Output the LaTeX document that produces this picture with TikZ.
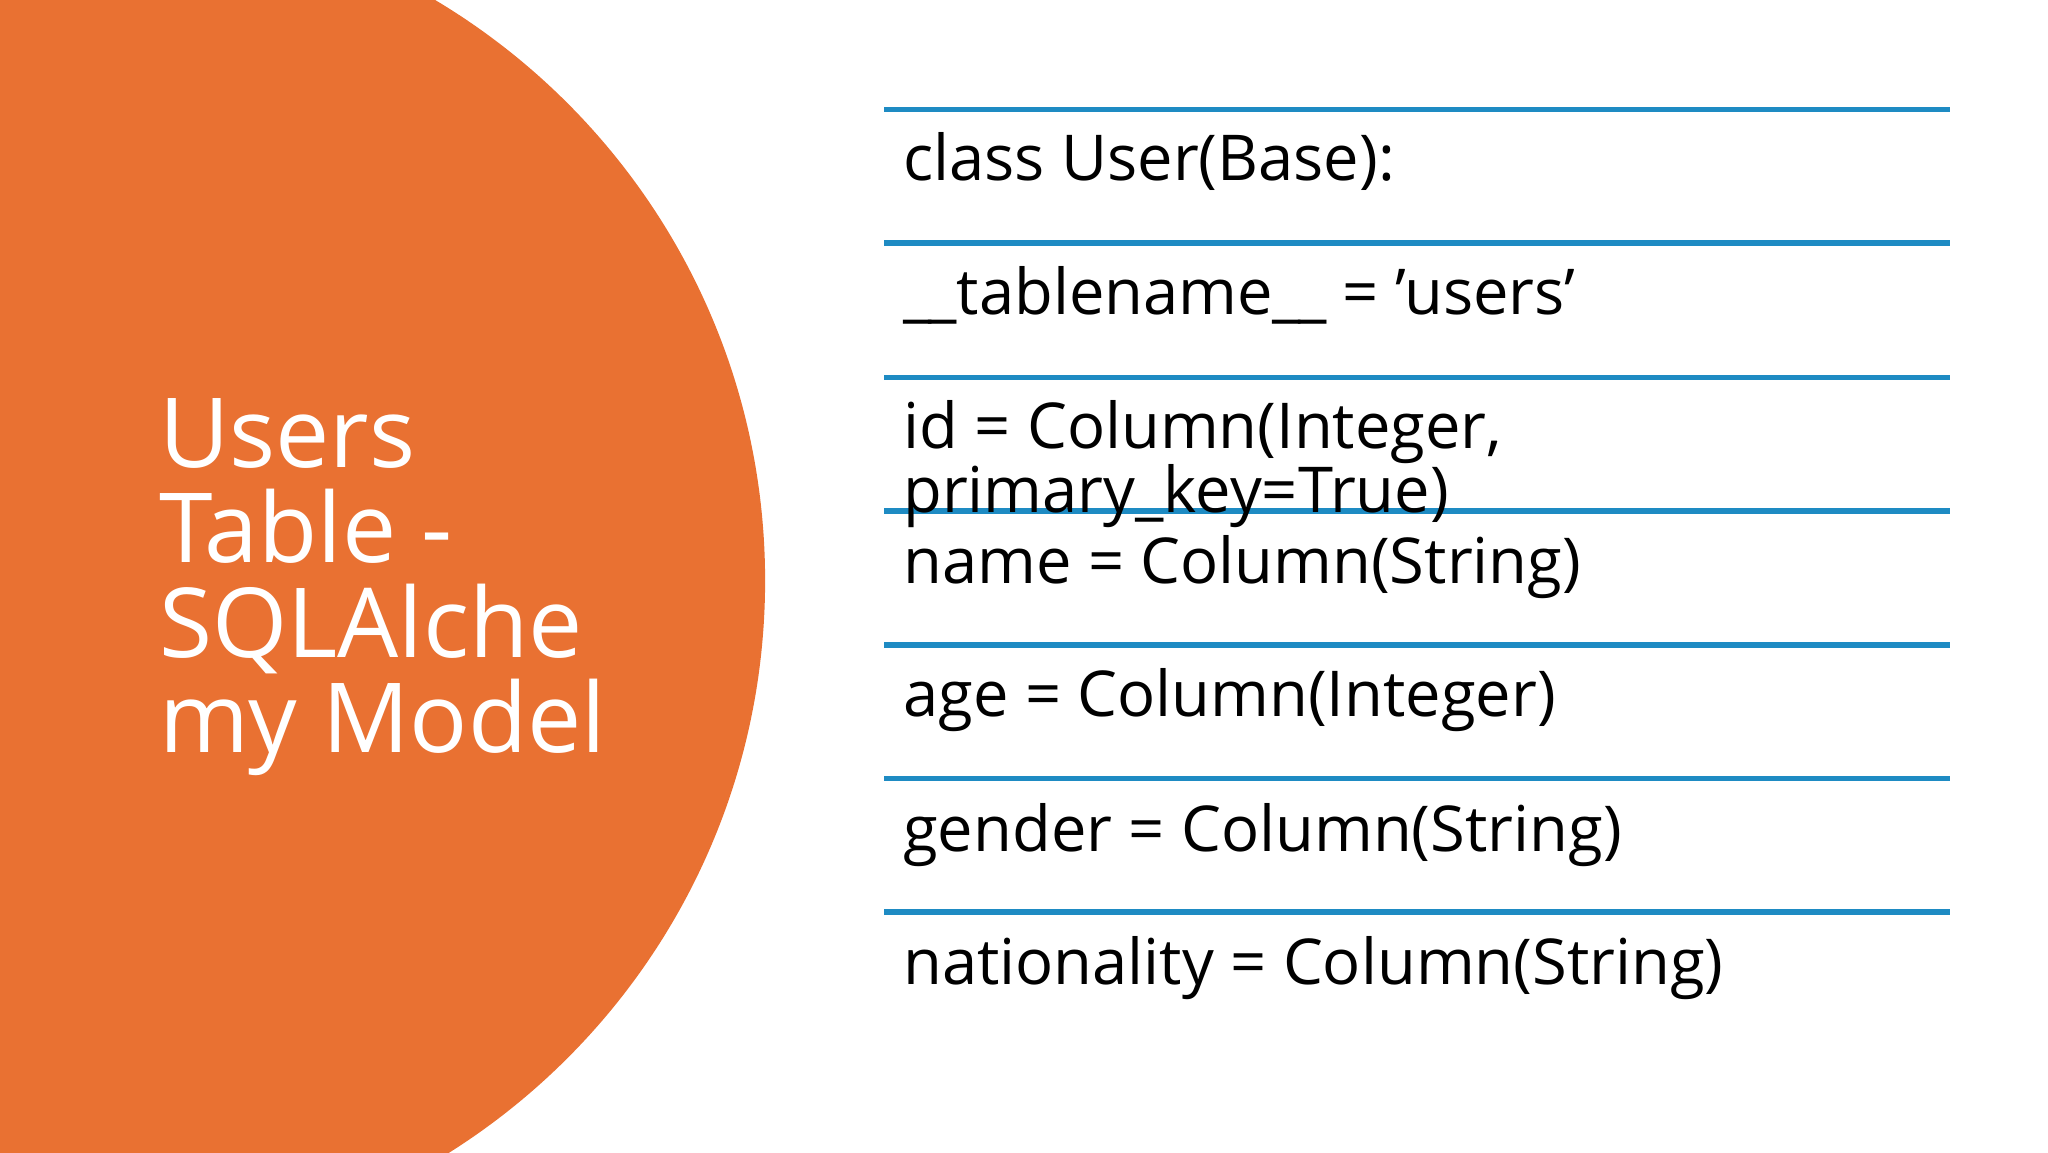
\documentclass[tikz,border=0pt]{standalone}
\usepackage{fontspec}
\setmainfont{Open Sans}
\definecolor{orng}{HTML}{E97132}
\definecolor{lblue}{HTML}{1E8BC3}
\begin{document}
\begin{tikzpicture}[x=0.013196cm,y=-0.013196cm,
  rowline/.style={draw=lblue,line width=1.6pt},
  code/.style={anchor=base west,inner sep=0pt,font=\fontsize{18}{22}\selectfont},
  ttl/.style={anchor=base west,inner sep=0pt,text=white,font=\fontsize{27.5}{27.5}\selectfont}]
\useasboundingbox (0,0) rectangle (1552,873);
\begin{scope}
\clip (0,0) rectangle (1552,873);
\fill[orng] (67.8,440) circle (512);
\end{scope}
\node[ttl] (t1) at (120,354) {Users};
\node[ttl] (t2) at (120,426) {Table -};
\node[ttl] (t3) at (120,498) {SQLAlche};
\node[ttl] (t4) at (120,570) {my Model};
\foreach \y/\n in {83/l1,184/l2,286/l3,387/l4,489/l5,590/l6,691/l7}{
  \coordinate (\n a) at (670,\y); \coordinate (\n b) at (1478,\y);
  \draw[rowline] (\n a) -- (\n b);}
\node[code] (c1) at (684,137) {class User(Base):};
\node[code] (c2) at (684,238) {\_\kern-0.05em\_tablename\_\kern-0.05em\_ = 'users'};
\node[code] (c3) at (684,340) {id = Column(Integer,};
\node[code] (c3b) at (684,388) {primary\_key=True)};
\node[code] (c4) at (684,442) {name = Column(String)};
\node[code] (c5) at (684,543) {age = Column(Integer)};
\node[code] (c6) at (684,645) {gender = Column(String)};
\node[code] (c7) at (684,746) {nationality = Column(String)};
\end{tikzpicture}
\end{document}
